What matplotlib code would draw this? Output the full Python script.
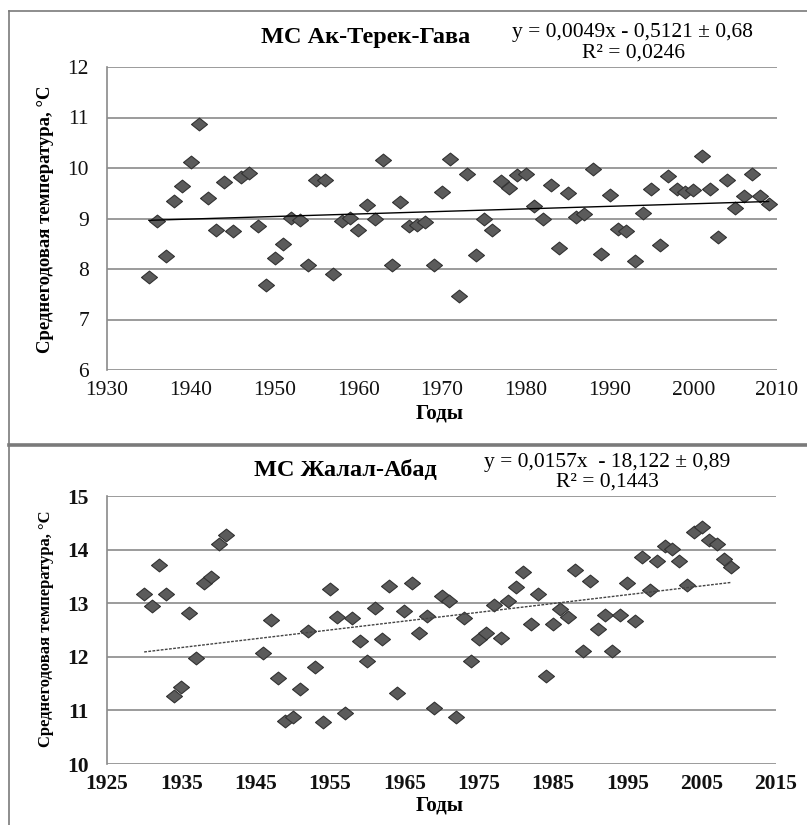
import numpy as np
import matplotlib
matplotlib.use("Agg")
import matplotlib.pyplot as plt
from matplotlib.lines import Line2D

# ---------------------------------------------------------------
# data
# ---------------------------------------------------------------
years_top = list(range(1935, 2010))
temp_top = [7.85, 8.96, 8.26, 9.35, 9.65, 10.12, 10.88, 9.41, 8.78, 9.73,
            8.75, 9.82, 9.90, 8.86, 7.69, 8.22, 8.49, 9.01, 8.98, 8.07,
            9.77, 9.77, 7.90, 8.96, 9.01, 8.78, 9.26, 8.99, 10.15, 8.08,
            9.33, 8.85, 8.87, 8.94, 8.07, 9.52, 10.17, 7.46, 9.89, 8.28,
            8.99, 8.78, 9.74, 9.61, 9.87, 9.89, 9.24, 8.99, 9.67, 8.41,
            9.51, 9.02, 9.09, 9.98, 8.30, 9.47, 8.80, 8.75, 8.16, 9.10,
            9.59, 8.47, 9.84, 9.59, 9.53, 9.57, 10.23, 9.59, 8.63, 9.77,
            9.21, 9.44, 9.89, 9.44, 9.29]

years_bot = list(range(1930, 1942)) + list(range(1946, 2010))
temp_bot = [13.17, 12.94, 13.71, 13.17, 11.26, 11.44, 12.81, 11.98, 13.37, 13.48,
            14.10, 14.27,
            12.07, 12.69, 11.61, 10.80, 10.88, 11.40, 12.49, 11.81, 10.79, 13.26,
            12.74, 10.96, 12.72, 12.29, 11.92, 12.91, 12.33, 13.33, 11.32, 12.85,
            13.37, 12.44, 12.77, 11.05, 13.14, 13.04, 10.88, 12.72, 11.92, 12.33,
            12.44, 12.97, 12.36, 13.04, 13.30, 13.58, 12.61, 13.17, 11.64, 12.62,
            12.90, 12.75, 13.62, 12.10, 13.42, 12.51, 12.78, 12.10, 12.78, 13.37,
            12.67, 13.87, 13.25, 13.79, 14.06, 14.01, 13.79, 13.34, 14.33, 14.42,
            14.18, 14.10, 13.82, 13.67]

title_top = "МС Ак-Терек-Гава"
eq_top = ["y = 0,0049x - 0,5121 ± 0,68", "R² = 0,0246"]
title_bot = "МС Жалал-Абад"
eq_bot = ["y = 0,0157x  - 18,122 ± 0,89", "R² = 0,1443"]
ylabel = "Среднегодовая температура, °С"
xlabel = "Годы"

# ---------------------------------------------------------------
# figure
# ---------------------------------------------------------------
W, H = 807, 825
plt.rcParams['font.family'] = ['Liberation Serif', 'DejaVu Serif']
fig = plt.figure(figsize=(W / 100, H / 100), dpi=100)

def fx(px):
    return px / W

def fy(py):
    return 1 - py / H

diamond = [(-1, 0), (0, 0.8), (1, 0), (0, -0.8), (-1, 0)]
grid_col = "#8a8a8a"

def setup(ax, xlim, xticks, ylim, bold_ticks, xpad):
    ax.set_xlim(*xlim)
    ax.set_ylim(*ylim)
    ax.set_xticks(xticks)
    ax.set_yticks(np.arange(ylim[0], ylim[1] + 1, 1))
    for s in ["top", "right", "bottom"]:
        ax.spines[s].set_visible(False)
    ax.spines["left"].set_color(grid_col)
    ax.spines["left"].set_linewidth(1.2)
    ax.grid(axis="y", color=grid_col, linewidth=1.2)
    ax.set_axisbelow(True)
    ax.tick_params(length=0, labelsize=15.5, colors="#111111")
    ax.tick_params(axis="y", pad=13)
    ax.tick_params(axis="x", pad=xpad)
    if bold_ticks:
        for t in ax.get_xticklabels() + ax.get_yticklabels():
            t.set_fontweight("bold")

# top panel
ax1 = fig.add_axes([fx(107), fy(370), fx(777) - fx(107), fy(67) - fy(370)])
setup(ax1, (1930, 2010), range(1930, 2011, 10), (6, 12), False, 8)
ax1.plot(years_top, temp_top, linestyle="none", marker=diamond, markersize=11.5,
         markerfacecolor="#5b5b5b", markeredgecolor="#333333", markeredgewidth=0.8)
k, b = np.polyfit(years_top, temp_top, 1)
xt = np.array([years_top[0], years_top[-1]])
ax1.plot(xt, k * xt + b, color="black", linewidth=1.0)

# bottom panel
ax2 = fig.add_axes([fx(107), fy(764), fx(776) - fx(107), fy(496) - fy(764)])
setup(ax2, (1925, 2015), range(1925, 2016, 10), (10, 15), True, 7)
ax2.plot(years_bot, temp_bot, linestyle="none", marker=diamond, markersize=11.5,
         markerfacecolor="#5b5b5b", markeredgecolor="#333333", markeredgewidth=0.8)
k2, b2 = np.polyfit(years_bot, temp_bot, 1)
xb = np.array([years_bot[0], years_bot[-1]])
ax2.plot(xb, k2 * xb + b2, color="#444444", linewidth=1.0, linestyle=(0, (2, 1)))

# titles, equations, labels
fig.text(fx(366), fy(38), title_top, ha="center", va="center",
         fontsize=17.5, fontweight="bold")
fig.text(fx(633), fy(32), eq_top[0], ha="center", va="center", fontsize=15.5)
fig.text(fx(633), fy(53), eq_top[1], ha="center", va="center", fontsize=15.5)
fig.text(fx(46), fy(219), ylabel, ha="center", va="center", rotation=90,
         fontsize=13.5, fontweight="bold")
fig.text(fx(440), fy(413), xlabel, ha="center", va="center",
         fontsize=15, fontweight="bold")

fig.text(fx(345), fy(470), title_bot, ha="center", va="center",
         fontsize=17.5, fontweight="bold")
fig.text(fx(607), fy(463), eq_bot[0], ha="center", va="center", fontsize=15.5)
fig.text(fx(607), fy(482), eq_bot[1], ha="center", va="center", fontsize=15.5)
fig.text(fx(46), fy(629), ylabel, ha="center", va="center", rotation=90,
         fontsize=12, fontweight="bold")
fig.text(fx(440), fy(805), xlabel, ha="center", va="center",
         fontsize=15, fontweight="bold")

# panel frames
frame_col = "#7a7a7a"
fig.add_artist(Line2D([fx(9), 1], [fy(11), fy(11)], color=frame_col, linewidth=1.2))
fig.add_artist(Line2D([fx(9), fx(9)], [fy(11), 0], color=frame_col, linewidth=1.2))
fig.add_artist(Line2D([fx(9), 1], [fy(445), fy(445)], color=frame_col, linewidth=2.6))

fig.savefig("out.png", dpi=100)
